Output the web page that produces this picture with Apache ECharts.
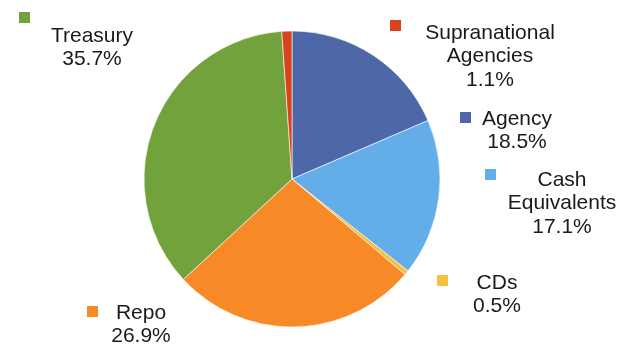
<!DOCTYPE html>
<html><head><meta charset="utf-8">
<script src="https://cdn.jsdelivr.net/npm/echarts@6/dist/echarts.min.js"></script>
<style>html,body{margin:0;padding:0;background:#fff}#c{width:620px;height:344px}</style>
</head><body><div id="c"></div>
<script>
var categories = ['Agency', 'Cash Equivalents', 'CDs', 'Repo', 'Treasury', 'Supranational Agencies'];
var values = [18.5, 17.1, 0.5, 26.9, 35.7, 1.1];
var colors = ['#4E67A8', '#63AEE8', '#F5BF3F', '#F78A26', '#71A23B', '#D8421E'];
// label text lines (how each category name wraps)
var labelLines = [['Agency'], ['Cash', 'Equivalents'], ['CDs'], ['Repo'], ['Treasury'], ['Supranational', 'Agencies']];
// layout: marker top-left, text centre x, first line centre y
var labelLayout = [
  {mx: 460, my: 112, tx: 517, ty: 119},
  {mx: 485, my: 169, tx: 562, ty: 180},
  {mx: 437, my: 275, tx: 497, ty: 283},
  {mx: 87, my: 306, tx: 141, ty: 313},
  {mx: 19, my: 12, tx: 92, ty: 36},
  {mx: 390, my: 20, tx: 490, ty: 33}
];

var graphics = [];
categories.forEach(function (c, i) {
  var L = labelLayout[i];
  graphics.push({type: 'rect', shape: {x: L.mx, y: L.my, width: 11, height: 11}, style: {fill: colors[i]}});
  var lines = labelLines[i].concat([values[i].toFixed(1) + '%']);
  graphics.push({
    type: 'text', x: L.tx, y: L.ty - 12,
    style: {
      text: lines.join('\n'), fill: '#1a1a1a', font: '21px "Liberation Sans", Arial, sans-serif',
      lineHeight: 23.5, align: 'center', verticalAlign: 'top'
    }
  });
});

var chart = echarts.init(document.getElementById('c'), null, {renderer: 'canvas'});
chart.setOption({
  animation: false,
  graphic: graphics,
  series: [{
    type: 'pie', center: [292, 179], radius: 148, startAngle: 90, clockwise: true,
    label: {show: false}, labelLine: {show: false}, silent: true,
    itemStyle: {borderColor: '#fff', borderWidth: 0.6},
    data: categories.map(function (c, i) { return {name: c, value: values[i], itemStyle: {color: colors[i]}}; })
  }]
});
</script></body></html>
